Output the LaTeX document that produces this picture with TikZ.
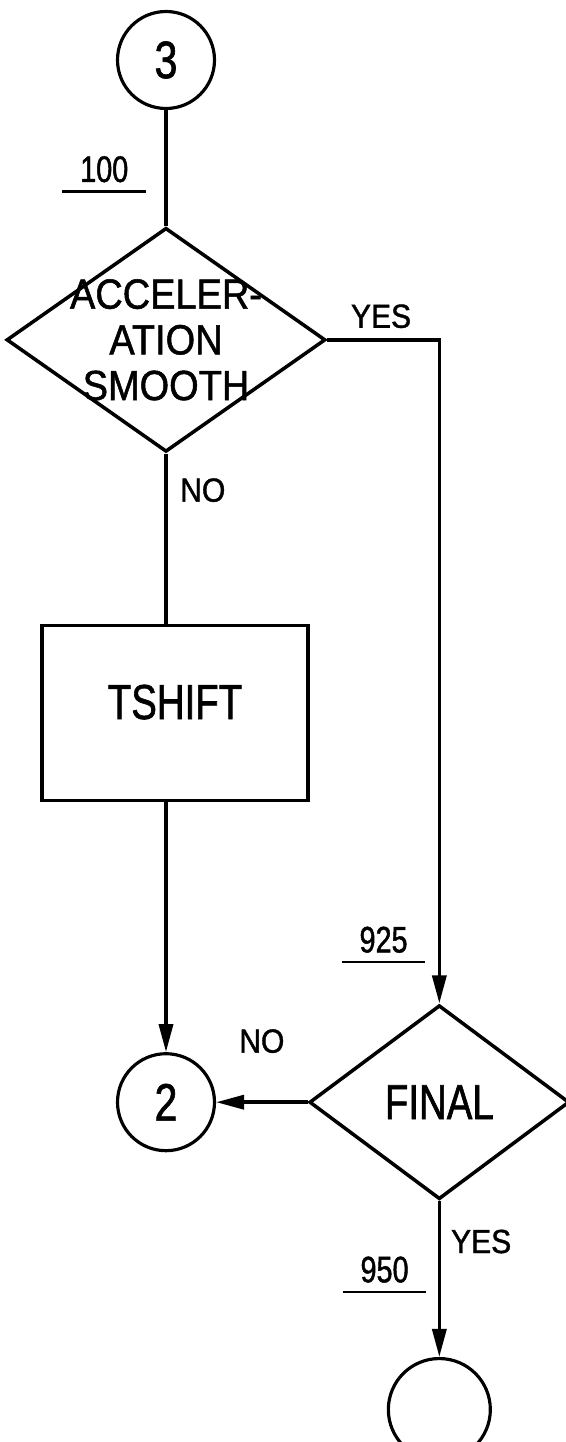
\documentclass[tikz,border=0pt]{standalone}
\usepackage{fontspec}
\newfontfamily\flowfont[FakeStretch=0.78, FakeBold=1.2]{Liberation Sans}
\newfontfamily\wideflowfont[FakeStretch=0.9, FakeBold=1.2]{Liberation Sans}
\newfontfamily\lblfont[FakeStretch=0.9, FakeBold=1.2]{Liberation Sans}
\usetikzlibrary{arrows.meta,positioning,shapes.geometric}

\begin{document}
\begin{tikzpicture}[
      node distance=2cm,
      line/.style={line width=2pt},
      arrow/.style={line, -{Triangle[length=0.56cm, width=0.28cm]}},
      conn/.style={draw, circle, line width=1.8pt, minimum size=1.94cm, inner sep=0pt,
                   font=\flowfont\fontsize{30}{34}\selectfont},
      decision/.style={draw, diamond, line width=2pt, inner sep=0pt,
                       font=\flowfont\fontsize{28}{33}\selectfont},
      process/.style={draw, rectangle, line width=2pt, minimum width=5.32cm,
                      minimum height=3.5cm, font=\flowfont\fontsize{28}{33}\selectfont},
      dtext/.style={align=center, inner sep=0pt, font=\wideflowfont\fontsize{24}{26}\selectfont},
      answer/.style={inner sep=0pt, font=\lblfont\fontsize{19}{22}\selectfont},
      numlbl/.style={inner xsep=0.32cm, inner ysep=0.15cm,
                     font=\flowfont\fontsize{21}{24}\selectfont},
      uline/.style={line width=1.3pt},
    ]
    \useasboundingbox (-3.32,1.2) rectangle (8.0,-27.64);

    % ---- left column ----
    \node[conn] (c3) {3};
    \node[decision, below=2.32cm of c3, minimum width=6.38cm, minimum height=4.48cm,
          label={[dtext]center:{ACCELER-\\ATION\\SMOOTH}}] (accel) {};
    \node[process, below=3.4cm of accel, xshift=0.18cm, text depth=0.44cm] (tshift) {TSHIFT};
    \node[conn, below=5cm of tshift, xshift=-0.18cm] (c2) {2};

    % ---- right column ----
    \node[decision, right=1.83cm of c2, minimum width=5.2cm, minimum height=3.88cm] (final) {FINAL};
    \node[conn, below=3.12cm of final, minimum size=2.04cm] (cend) {};

    % connectors
    \draw[line] (c3) -- node[numlbl, left=0.4cm, pos=0.51] (n100) {100} (accel);
    \draw[arrow] (accel.east) -| node[answer, above=0.2cm, pos=0.24] (yes1) {YES}
          node[numlbl, left=0.28cm, pos=0.952] (n925) {925} (final.north);
    \draw[line] (accel.south) -- node[answer, right=0.25cm, pos=0.215] (no1) {NO}
          (accel.south |- tshift.north);
    \draw[arrow] (c2.north |- tshift.south) -- (c2.north);
    \draw[arrow] (final.west) -- node[answer, above=0.95cm] (no2) {NO} (c2.east);
    \draw[arrow] (final.south) -- node[answer, right=0.2cm, pos=0.26] (yes2) {YES}
          node[numlbl, left=0.26cm, pos=0.44] (n950) {950} (cend.north);

    % statement numbers
    \foreach \n in {n100,n925,n950}
      \draw[uline] (\n.south west) -- (\n.south east);
  \end{tikzpicture}
\end{document}
